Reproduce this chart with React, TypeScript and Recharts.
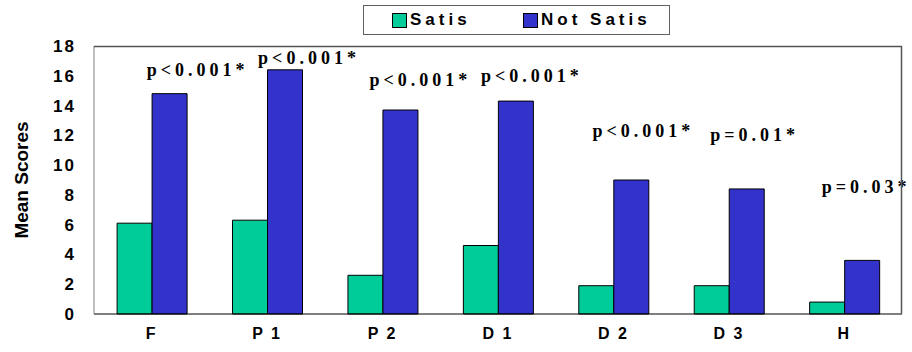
import { BarChart, Bar, XAxis, YAxis, LabelList, Label } from 'recharts';

const categories = ['F', 'P 1', 'P 2', 'D 1', 'D 2', 'D 3', 'H'];
const satis = [6.1, 6.3, 2.6, 4.6, 1.9, 1.9, 0.8];
const notSatis = [14.8, 16.4, 13.7, 14.3, 9.0, 8.4, 3.6];
const pNotes = ['p<0.001*', 'p<0.001*', 'p<0.001*', 'p<0.001*', 'p<0.001*', 'p=0.01*', 'p=0.03*'];
// height (in score units) where each p-value note sits
const noteLevel = [16.4, 17.2, 15.7, 16.0, 12.3, 12.0, 8.5];
const yTicks = [0, 2, 4, 6, 8, 10, 12, 14, 16, 18];

const GREEN = '#00CC99';
const BLUE = '#3333CC';

const W = 912;
const H = 352;
const MARGIN = { top: 46, right: 10, bottom: 8, left: 0 };
const Y_AXIS_W = 94;
const X_AXIS_H = 30;

const chartData = categories.map((name, i) => ({
  name,
  satis: satis[i],
  notSatis: notSatis[i],
  note: pNotes[i],
}));

const tickStyle = { fill: '#000', fontSize: 17, fontWeight: 700, fontFamily: 'Liberation Sans, Arial, sans-serif', letterSpacing: 2 };

const NoteLabel = (props: any) => {
  const { x, y, width, height, value, index } = props;
  const pxPerUnit = height / notSatis[index];
  const cy = y + height - noteLevel[index] * pxPerUnit;
  // notes drift leftwards a little across the chart
  const dx = 28 - 4 * index;
  return (
    <text
      x={x + width / 2 + dx}
      y={cy + 6}
      textAnchor="middle"
      fill="#000"
      fontSize={18}
      fontWeight={700}
      fontFamily="Liberation Serif, Times New Roman, serif"
      letterSpacing={4}
    >
      {value}
    </text>
  );
};

function LegendBox() {
  const item = (color: string, text: string, left: number) => (
    <span style={{ position: 'absolute', left, top: 6, display: 'inline-flex', alignItems: 'center', height: 16 }}>
      <span style={{ width: 13, height: 13, background: color, border: '1px solid #000', display: 'inline-block', marginRight: 3 }} />
      <span>{text}</span>
    </span>
  );
  return (
    <div
      style={{
        position: 'absolute',
        left: 363,
        top: 5,
        width: 307,
        height: 30,
        border: '1px solid #606060',
        background: '#fff',
        boxSizing: 'border-box',
        fontFamily: 'Liberation Sans, Arial, sans-serif',
        fontWeight: 700,
        fontSize: 17,
        lineHeight: '16px',
        letterSpacing: 4,
      }}
    >
      {item(GREEN, 'Satis', 28)}
      {item(BLUE, 'Not Satis', 159)}
    </div>
  );
}

export default function App() {
  const plotLeft = MARGIN.left + Y_AXIS_W;
  const plotWidth = W - plotLeft - MARGIN.right;
  const plotHeight = H - MARGIN.top - MARGIN.bottom - X_AXIS_H;
  return (
    <div style={{ position: 'absolute', left: 0, top: 0, width: W, height: H, background: '#fff' }}>
      <BarChart
        width={W}
        height={H}
        data={chartData}
        margin={MARGIN}
        barCategoryGap="20%"
        barGap={0}
      >
        <XAxis
          dataKey="name"
          height={X_AXIS_H}
          axisLine={{ stroke: '#000' }}
          tickLine={false}
          tickSize={0}
          tickMargin={14}
          tick={{ ...tickStyle, fontSize: 16, fontFamily: 'Liberation Sans Narrow, Liberation Sans, Arial, sans-serif', letterSpacing: 2 }}
          interval={0}
        />
        <YAxis
          width={Y_AXIS_W}
          domain={[0, 18]}
          ticks={yTicks}
          axisLine={{ stroke: '#808080' }}
          tickLine={false}
          tickSize={0}
          tickMargin={18}
          tick={tickStyle}
        >
          <Label
            content={(p: any) => {
              const vb = p.viewBox || { y: 46, height: 268 };
              const cy = vb.y + vb.height / 2;
              return (
                <text
                  x={21}
                  y={cy}
                  transform={`rotate(-90, 21, ${cy})`}
                  textAnchor="middle"
                  dominantBaseline="central"
                  fontSize={19}
                  fontWeight={700}
                  fontFamily="Liberation Sans, Arial, sans-serif"
                  fill="#000"
                >
                  Mean Scores
                </text>
              );
            }}
          />
        </YAxis>
        <Bar dataKey="satis" fill={GREEN} stroke="#000" strokeWidth={1} isAnimationActive={false} />
        <Bar dataKey="notSatis" fill={BLUE} stroke="#000" strokeWidth={1} isAnimationActive={false}>
          <LabelList dataKey="note" content={NoteLabel} />
        </Bar>
      </BarChart>
      {/* plot frame: top and right edges, laid over the chart */}
      <svg
        width={W}
        height={H}
        style={{ position: 'absolute', left: 0, top: 0, pointerEvents: 'none', zIndex: 2 }}
      >
        <polyline
          points={`${plotLeft},${MARGIN.top + 0.5} ${plotLeft + plotWidth - 0.5},${MARGIN.top + 0.5} ${plotLeft + plotWidth - 0.5},${MARGIN.top + plotHeight}`}
          fill="none"
          stroke="#555"
          strokeWidth={1.5}
        />
      </svg>
      <LegendBox />
    </div>
  );
}
